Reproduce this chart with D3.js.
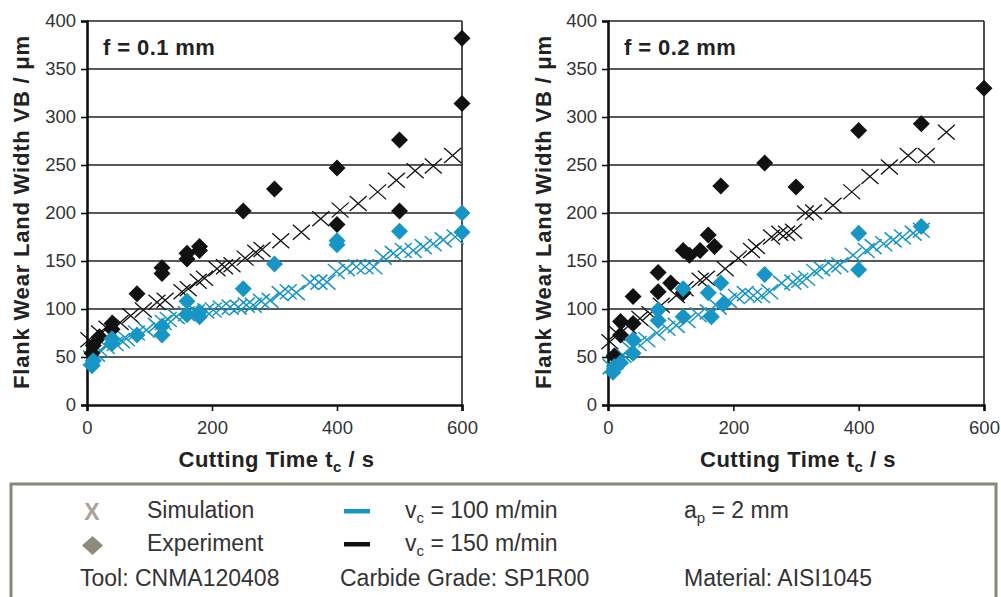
<!DOCTYPE html>
<html>
<head>
<meta charset="utf-8">
<script src="https://cdn.jsdelivr.net/npm/d3@7"></script>
<style>
  html, body { margin: 0; padding: 0; background: #fff; }
  svg { display: block; font-family: "Liberation Sans", Arial, sans-serif; }
</style>
</head>
<body>
<svg id="chart" width="1001" height="597"></svg>
<script>
// ---------------- data ----------------
const xTicks = [0, 200, 400, 600];
const yTicks = [0, 50, 100, 150, 200, 250, 300, 350, 400];
const panelLabels = ["f = 0.1 mm", "f = 0.2 mm"];

// [cutting time s, VB µm]
const leftSim150 = [[3,68],[20,75],[32,80],[53,86],[70,93],[90,99],[112,107],[125,109],[152,118],[162,121],[178,129],[188,132],[208,142],[220,144],[232,146],[253,153],[270,159],[280,162],[310,171],[343,180],[374,194],[405,203],[434,210],[465,222],[495,234],[525,244],[554,249],[585,260]];
const leftSim100 = [[7,49],[15,53],[21,57],[31,61],[45,64],[55,67],[63,69],[79,75],[95,78],[111,83],[122,86],[130,89],[143,92],[159,95],[175,97],[190,98],[202,99],[215,101],[229,102],[242,102],[255,104],[266,104],[279,108],[293,109],[309,116],[322,118],[335,117],[357,128],[371,128],[384,128],[399,139],[415,142],[431,144],[445,144],[459,144],[474,154],[490,158],[506,161],[522,161],[538,165],[554,168],[570,172],[589,175]];
const leftExp100 = [[8,41],[10,46],[40,64],[40,69],[80,73],[120,73],[120,82],[160,94],[160,108],[180,92],[180,97],[250,121],[300,147],[400,167],[400,171],[500,181],[600,180],[600,200]];
const leftExp150 = [[8,54],[10,62],[20,71],[40,79],[40,85],[80,116],[120,137],[120,143],[160,152],[160,158],[180,161],[180,165],[250,202],[300,225],[400,188],[400,247],[500,202],[500,276],[600,314],[600,382]];

const rightSim150 = [[3,66],[14,75],[32,82],[51,90],[67,95],[85,104],[109,114],[123,121],[147,130],[157,132],[187,142],[208,153],[229,161],[237,165],[261,175],[274,179],[285,179],[296,181],[315,200],[328,201],[359,208],[389,222],[418,238],[449,248],[479,260],[508,260],[540,284]];
const rightSim100 = [[5,40],[11,45],[24,52],[35,59],[48,64],[62,68],[78,75],[94,80],[109,83],[126,88],[144,94],[160,97],[176,102],[192,109],[205,113],[219,116],[232,114],[245,114],[258,118],[277,127],[295,128],[306,130],[317,132],[330,139],[341,142],[359,144],[370,146],[391,156],[412,161],[423,165],[440,168],[455,172],[470,175],[487,179],[500,182]];
const rightExp100 = [[8,34],[10,40],[20,44],[40,54],[40,68],[80,88],[80,99],[120,92],[120,121],[160,117],[165,92],[180,127],[185,106],[250,136],[400,141],[400,179],[500,186]];
const rightExp150 = [[10,51],[20,73],[20,87],[40,85],[40,113],[80,118],[80,138],[100,127],[120,117],[120,161],[130,156],[147,161],[160,177],[170,165],[180,228],[250,252],[300,227],[400,286],[500,293],[600,330]];

// ---------------- styling ----------------
const BLUE = "#1795c4";
const BLACK = "#111111";
const TEXT = "#333333";

const svg = d3.select("#chart");

const panels = [
  { label: panelLabels[0], x0: 87, x1: 462, sim100: leftSim100, sim150: leftSim150, exp100: leftExp100, exp150: leftExp150, titleX: 29 },
  { label: panelLabels[1], x0: 608, x1: 984, sim100: rightSim100, sim150: rightSim150, exp100: rightExp100, exp150: rightExp150, titleX: 551 }
];

const yTop = 21, yBot = 405;
const y = d3.scaleLinear().domain([0, 400]).range([yBot, yTop]);

const xPath = "M-8.5,-7.5L8.5,7.5M-8.5,7.5L8.5,-7.5";
const dPath = "M0,-8.5L8.5,0L0,8.5L-8.5,0Z";

panels.forEach(p => {
  const x = d3.scaleLinear().domain([0, 600]).range([p.x0, p.x1]);
  const g = svg.append("g");

  // gridlines
  g.append("g").selectAll("line").data(yTicks.filter(d => d > 0)).join("line")
    .attr("x1", p.x0).attr("x2", p.x1)
    .attr("y1", d => y(d)).attr("y2", d => y(d))
    .attr("stroke", "#222").attr("stroke-width", 1.6);

  // right border
  g.append("line").attr("x1", p.x1).attr("x2", p.x1).attr("y1", yTop).attr("y2", yBot)
    .attr("stroke", "#222").attr("stroke-width", 1.6);

  // y axis
  const ya = g.append("g").attr("transform", `translate(${p.x0},0)`)
    .call(d3.axisLeft(y).tickValues(yTicks).tickSize(6).tickPadding(5));
  ya.select(".domain").attr("stroke", "#111").attr("stroke-width", 2.6);
  ya.selectAll(".tick line").attr("stroke", "#111").attr("stroke-width", 1.6);
  ya.selectAll(".tick text").attr("font-size", 18.5).attr("fill", TEXT)
    .attr("font-family", "Liberation Sans, Arial, sans-serif");

  // x axis
  const xa = g.append("g").attr("transform", `translate(0,${yBot})`)
    .call(d3.axisBottom(x).tickValues(xTicks).tickSize(6).tickPadding(10));
  xa.select(".domain").attr("stroke", "#111").attr("stroke-width", 2.6);
  xa.selectAll(".tick line").attr("stroke", "#111").attr("stroke-width", 1.6);
  xa.selectAll(".tick text").attr("font-size", 18.5).attr("fill", TEXT)
    .attr("font-family", "Liberation Sans, Arial, sans-serif");

  // simulation markers
  g.append("g").selectAll("path").data(p.sim150).join("path")
    .attr("d", xPath)
    .attr("transform", d => `translate(${x(d[0])},${y(d[1])})`)
    .attr("fill", "none").attr("stroke", BLACK).attr("stroke-width", 1.3);
  g.append("g").selectAll("path").data(p.sim100).join("path")
    .attr("d", xPath)
    .attr("transform", d => `translate(${x(d[0])},${y(d[1])})`)
    .attr("fill", "none").attr("stroke", BLUE).attr("stroke-width", 1.5);

  // experiment markers
  g.append("g").selectAll("path").data(p.exp150).join("path")
    .attr("d", dPath)
    .attr("transform", d => `translate(${x(d[0])},${y(d[1])})`)
    .attr("fill", BLACK);
  g.append("g").selectAll("path").data(p.exp100).join("path")
    .attr("d", dPath)
    .attr("transform", d => `translate(${x(d[0])},${y(d[1])})`)
    .attr("fill", BLUE);

  // panel label
  g.append("text").attr("x", p.x0 + 16).attr("y", 55)
    .attr("font-size", 22).attr("font-weight", "bold").attr("fill", "#222")
    .attr("letter-spacing", 0.4)
    .text(p.label);

  // y title
  g.append("text")
    .attr("transform", `translate(${p.titleX},212) rotate(-90)`)
    .attr("text-anchor", "middle").attr("font-size", 22).attr("font-weight", "bold").attr("fill", "#222")
    .attr("letter-spacing", 0.8)
    .text("Flank Wear Land Width VB / μm");

  // x title
  const xt = g.append("text")
    .attr("x", (p.x0 + p.x1) / 2 + 2).attr("y", 467)
    .attr("text-anchor", "middle").attr("font-size", 22).attr("font-weight", "bold").attr("fill", "#222")
    .attr("letter-spacing", 0.5);
  xt.append("tspan").text("Cutting Time t");
  xt.append("tspan").attr("font-size", 15).attr("dy", 5).text("c");
  xt.append("tspan").attr("dy", -5).text(" / s");
});

// ---------------- legend ----------------
const lg = svg.append("g");
lg.append("rect").attr("x", 11).attr("y", 484).attr("width", 985).attr("height", 140)
  .attr("fill", "none").attr("stroke", "#8b8778").attr("stroke-width", 3);

const LEG_FS = 23;
function subText(xPos, yPos, main, sub, rest) {
  const t = lg.append("text").attr("x", xPos).attr("y", yPos).attr("font-size", LEG_FS).attr("fill", TEXT);
  t.append("tspan").text(main);
  t.append("tspan").attr("font-size", 15).attr("dy", 5).text(sub);
  t.append("tspan").attr("dy", -5).text(rest);
}

// row 1
lg.append("text").attr("x", 92).attr("y", 520).attr("text-anchor", "middle")
  .attr("font-size", 23).attr("font-weight", "bold").attr("fill", "#a8a498").text("X");
lg.append("text").attr("x", 147).attr("y", 518).attr("font-size", LEG_FS).attr("fill", TEXT).text("Simulation");
lg.append("rect").attr("x", 344).attr("y", 509).attr("width", 26).attr("height", 4.5).attr("fill", BLUE);
subText(405, 518, "v", "c", " = 100 m/min");
subText(684, 518, "a", "p", " = 2 mm");

// row 2
lg.append("path").attr("d", "M0,-9.5L10.5,0L0,9.5L-10.5,0Z").attr("transform", "translate(92.5,545.5)").attr("fill", "#8f8b7c");
lg.append("text").attr("x", 147).attr("y", 551).attr("font-size", LEG_FS).attr("fill", TEXT).text("Experiment");
lg.append("rect").attr("x", 344).attr("y", 542).attr("width", 26).attr("height", 4.5).attr("fill", BLACK);
subText(405, 551, "v", "c", " = 150 m/min");

// row 3
lg.append("text").attr("x", 80).attr("y", 586).attr("font-size", LEG_FS).attr("fill", TEXT).text("Tool: CNMA120408");
lg.append("text").attr("x", 340).attr("y", 586).attr("font-size", LEG_FS).attr("fill", TEXT).text("Carbide Grade: SP1R00");
lg.append("text").attr("x", 684).attr("y", 586).attr("font-size", LEG_FS).attr("fill", TEXT).text("Material: AISI1045");
</script>
</body>
</html>
